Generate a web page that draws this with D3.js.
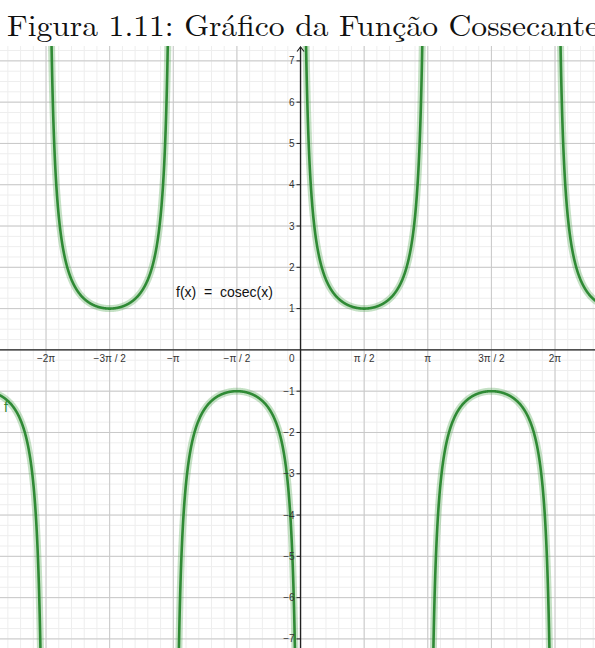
<!DOCTYPE html>
<html>
<head>
<meta charset="utf-8">
<script src="https://cdn.jsdelivr.net/npm/d3@7"></script>
<style>
  body { margin: 0; background: #fff; }
  svg { display: block; }
  .tick-label { font-family: "Liberation Sans", Arial, sans-serif; font-size: 10px; fill: #333; }
</style>
</head>
<body>
<svg id="chart"></svg>
<script>
const width = 595, height = 648
const plotTop = 46

const titleText = "Figura 1.11: Gráfico da Função Cossecante"
const fnLabel = "f(x)  =  cosec(x)"

// x domain / y domain of the visible window
const xDomain = [-7.42, 7.27]
const yDomain = [-7.22, 7.36]

const xTickValues = [-2, -1.5, -1, -0.5, 0.5, 1, 1.5, 2].map(k => k * Math.PI)
const xTickLabels = ["−2π", "−3π / 2", "−π", "−π / 2", "π / 2", "π", "3π / 2", "2π"]
const yTickValues = [-7, -6, -5, -4, -3, -2, -1, 1, 2, 3, 4, 5, 6, 7]
const yTickLabels = ["−7", "−6", "−5", "−4", "−3", "−2", "−1", "1", "2", "3", "4", "5", "6", "7"]

// branches of cosec between its asymptotes (multiples of π)
const branchStarts = [-3, -2, -1, 0, 1, 2].map(k => k * Math.PI)
const cosec = x => 1 / Math.sin(x)

const svg = d3.select('#chart')
  .attr('width', width)
  .attr('height', height)

const x = d3.scaleLinear().domain(xDomain).range([0, width])
const y = d3.scaleLinear().domain(yDomain).range([height, plotTop])

// title
svg.append('text')
  .attr('x', 7)
  .attr('y', 36)
  .attr('textLength', 592)
  .attr('lengthAdjust', 'spacingAndGlyphs')
  .style('font-family', '"Latin Modern Roman", "Liberation Serif", "DejaVu Serif", serif')
  .style('font-size', '30px')
  .style('fill', '#111')
  .text(titleText)

const plot = svg.append('g')

plot.append('clipPath').attr('id', 'clip')
  .append('rect')
  .attr('x', 0).attr('y', plotTop)
  .attr('width', width).attr('height', height - plotTop)

const grid = plot.append('g').attr('clip-path', 'url(#clip)')

// minor grid
const xMinor = d3.range(Math.ceil(xDomain[0] / (Math.PI / 10)), Math.floor(xDomain[1] / (Math.PI / 10)) + 1)
  .map(i => i * Math.PI / 10)
const yMinor = d3.range(Math.ceil(yDomain[0] * 4), Math.floor(yDomain[1] * 4) + 1).map(i => i / 4)

grid.selectAll('line.xminor').data(xMinor).enter().append('line')
  .attr('x1', d => x(d)).attr('x2', d => x(d))
  .attr('y1', plotTop).attr('y2', height)
  .attr('stroke', '#eeeeee').attr('stroke-width', 1)
grid.selectAll('line.yminor').data(yMinor).enter().append('line')
  .attr('y1', d => y(d)).attr('y2', d => y(d))
  .attr('x1', 0).attr('x2', width)
  .attr('stroke', '#eeeeee').attr('stroke-width', 1)

// major grid
const xMajor = d3.range(-4, 5).map(k => k * Math.PI / 2)
const yMajor = d3.range(-7, 8)
grid.selectAll('line.xmajor').data(xMajor).enter().append('line')
  .attr('x1', d => x(d)).attr('x2', d => x(d))
  .attr('y1', plotTop).attr('y2', height)
  .attr('stroke', '#c8c8c8').attr('stroke-width', 1)
grid.selectAll('line.ymajor').data(yMajor).enter().append('line')
  .attr('y1', d => y(d)).attr('y2', d => y(d))
  .attr('x1', 0).attr('x2', width)
  .attr('stroke', '#c8c8c8').attr('stroke-width', 1)

// curves
const line = d3.line().x(d => x(d[0])).y(d => y(d[1]))
const curves = plot.append('g').attr('clip-path', 'url(#clip)')
branchStarts.forEach(a => {
  const pts = []
  const n = 600
  for (let i = 1; i < n; i++) {
    const xv = a + Math.PI * i / n
    const yv = cosec(xv)
    if (Math.abs(yv) < 12) pts.push([xv, yv])
  }
  curves.append('path').attr('d', line(pts))
    .attr('fill', 'none').attr('stroke', 'rgba(90,170,90,0.35)').attr('stroke-width', 7)
  curves.append('path').attr('d', line(pts))
    .attr('fill', 'none').attr('stroke', '#2f8a35').attr('stroke-width', 2.6)
})

// axes
const x0 = x(0), y0 = y(0)
plot.append('line')
  .attr('x1', 0).attr('x2', width).attr('y1', y0).attr('y2', y0)
  .attr('stroke', '#222').attr('stroke-width', 1.4)
plot.append('line')
  .attr('x1', x0).attr('x2', x0).attr('y1', plotTop + 1).attr('y2', height)
  .attr('stroke', '#222').attr('stroke-width', 1.4)
plot.append('path')
  .attr('d', `M${x0 - 3.5},${plotTop + 5.5}L${x0},${plotTop + 1}L${x0 + 3.5},${plotTop + 5.5}`)
  .attr('fill', 'none').attr('stroke', '#222').attr('stroke-width', 1.1)

// x tick labels
plot.selectAll('text.xl').data(xTickValues).enter().append('text')
  .attr('class', 'tick-label')
  .attr('x', d => x(d))
  .attr('y', y0 + 12.5)
  .attr('text-anchor', 'middle')
  .text((d, i) => xTickLabels[i])

// y ticks + labels
plot.selectAll('line.yt').data(yTickValues).enter().append('line')
  .attr('x1', x0 - 4).attr('x2', x0)
  .attr('y1', d => y(d)).attr('y2', d => y(d))
  .attr('stroke', '#222').attr('stroke-width', 1)
plot.selectAll('text.yl').data(yTickValues).enter().append('text')
  .attr('class', 'tick-label')
  .attr('x', x0 - 6)
  .attr('y', d => y(d) + 3.5)
  .attr('text-anchor', 'end')
  .text((d, i) => yTickLabels[i])

plot.append('text')
  .attr('class', 'tick-label')
  .attr('x', x0 - 6).attr('y', y0 + 12.5)
  .attr('text-anchor', 'end')
  .text('0')

// function labels
plot.append('text')
  .attr('x', 176).attr('y', 297)
  .style('font-family', '"Liberation Sans", Arial, sans-serif')
  .style('font-size', '14px')
  .style('fill', '#111')
  .style('white-space', 'pre')
  .attr('xml:space', 'preserve')
  .text(fnLabel)

plot.append('text')
  .attr('x', 4).attr('y', 412)
  .style('font-family', '"Liberation Sans", Arial, sans-serif')
  .style('font-size', '14px')
  .style('fill', '#2f8a35')
  .text('f')
</script>
</body>
</html>
